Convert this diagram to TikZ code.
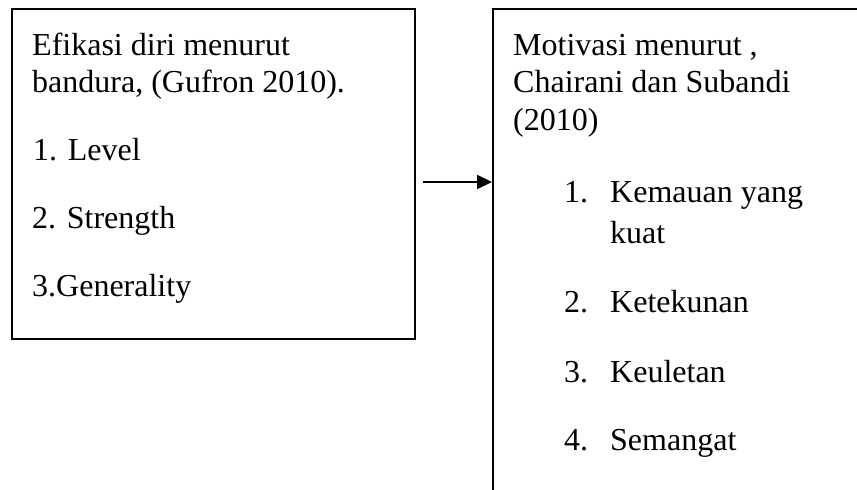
\documentclass[tikz,border=0pt]{standalone}
\usepackage{fontspec}
\setmainfont{Liberation Serif}
\usepackage{tikz}
\usetikzlibrary{arrows.meta,positioning}

\tikzset{
	kotak/.style={draw, line width=1.5pt, inner sep=0pt, anchor=north west},
	teks/.style={anchor=base west, inner sep=0pt, font=\fontsize{32pt}{37pt}\selectfont},
	panah/.style={line width=2pt, -{Triangle[length=15pt,width=14pt]}}
}

\begin{document}
\begin{tikzpicture}[x=1pt,y=-1pt]
						\useasboundingbox (0,0) rectangle (857,490);
						\clip (0,0) rectangle (857,490);
						
						% kotak kiri dan kanan
						\node[kotak, minimum width=403pt, minimum height=330pt] (efikasi) at (11,8) {};
						\node[kotak, minimum width=400pt, minimum height=520pt] (motivasi) at (492,8) {};
						
						% teks kiri
						\node[teks] (ef1) at (32,55) {Efikasi diri menurut};
						\node[teks] (ef2) at (32,92) {bandura, (Gufron 2010).};
						\node[teks] (ef3) at (33,160) {1. Level};
						\node[teks] (ef4) at (32,228) {2. Strength};
						\node[teks] (ef5) at (32,296) {3.Generality};
						
						% teks kanan
						\node[teks] (mo1) at (513,55) {Motivasi menurut ,};
						\node[teks] (mo2) at (513,92) {Chairani dan Subandi};
						\node[teks] (mo3) at (513,130) {(2010)};
						\node[teks] (no1) at (564,202) {1.};
						\node[teks] (it1) at (610,202) {Kemauan yang};
						\node[teks] (it1b) at (610,243) {kuat};
						\node[teks] (no2) at (564,312) {2.};
						\node[teks] (it2) at (610,312) {Ketekunan};
						\node[teks] (no3) at (564,382) {3.};
						\node[teks] (it3) at (610,382) {Keuletan};
						\node[teks] (no4) at (564,450) {4.};
						\node[teks] (it4) at (610,450) {Semangat};
						
						\coordinate (awal) at (423,182);
						\draw[panah] (awal) -- (awal -| motivasi.west);
					\end{tikzpicture}
\end{document}
